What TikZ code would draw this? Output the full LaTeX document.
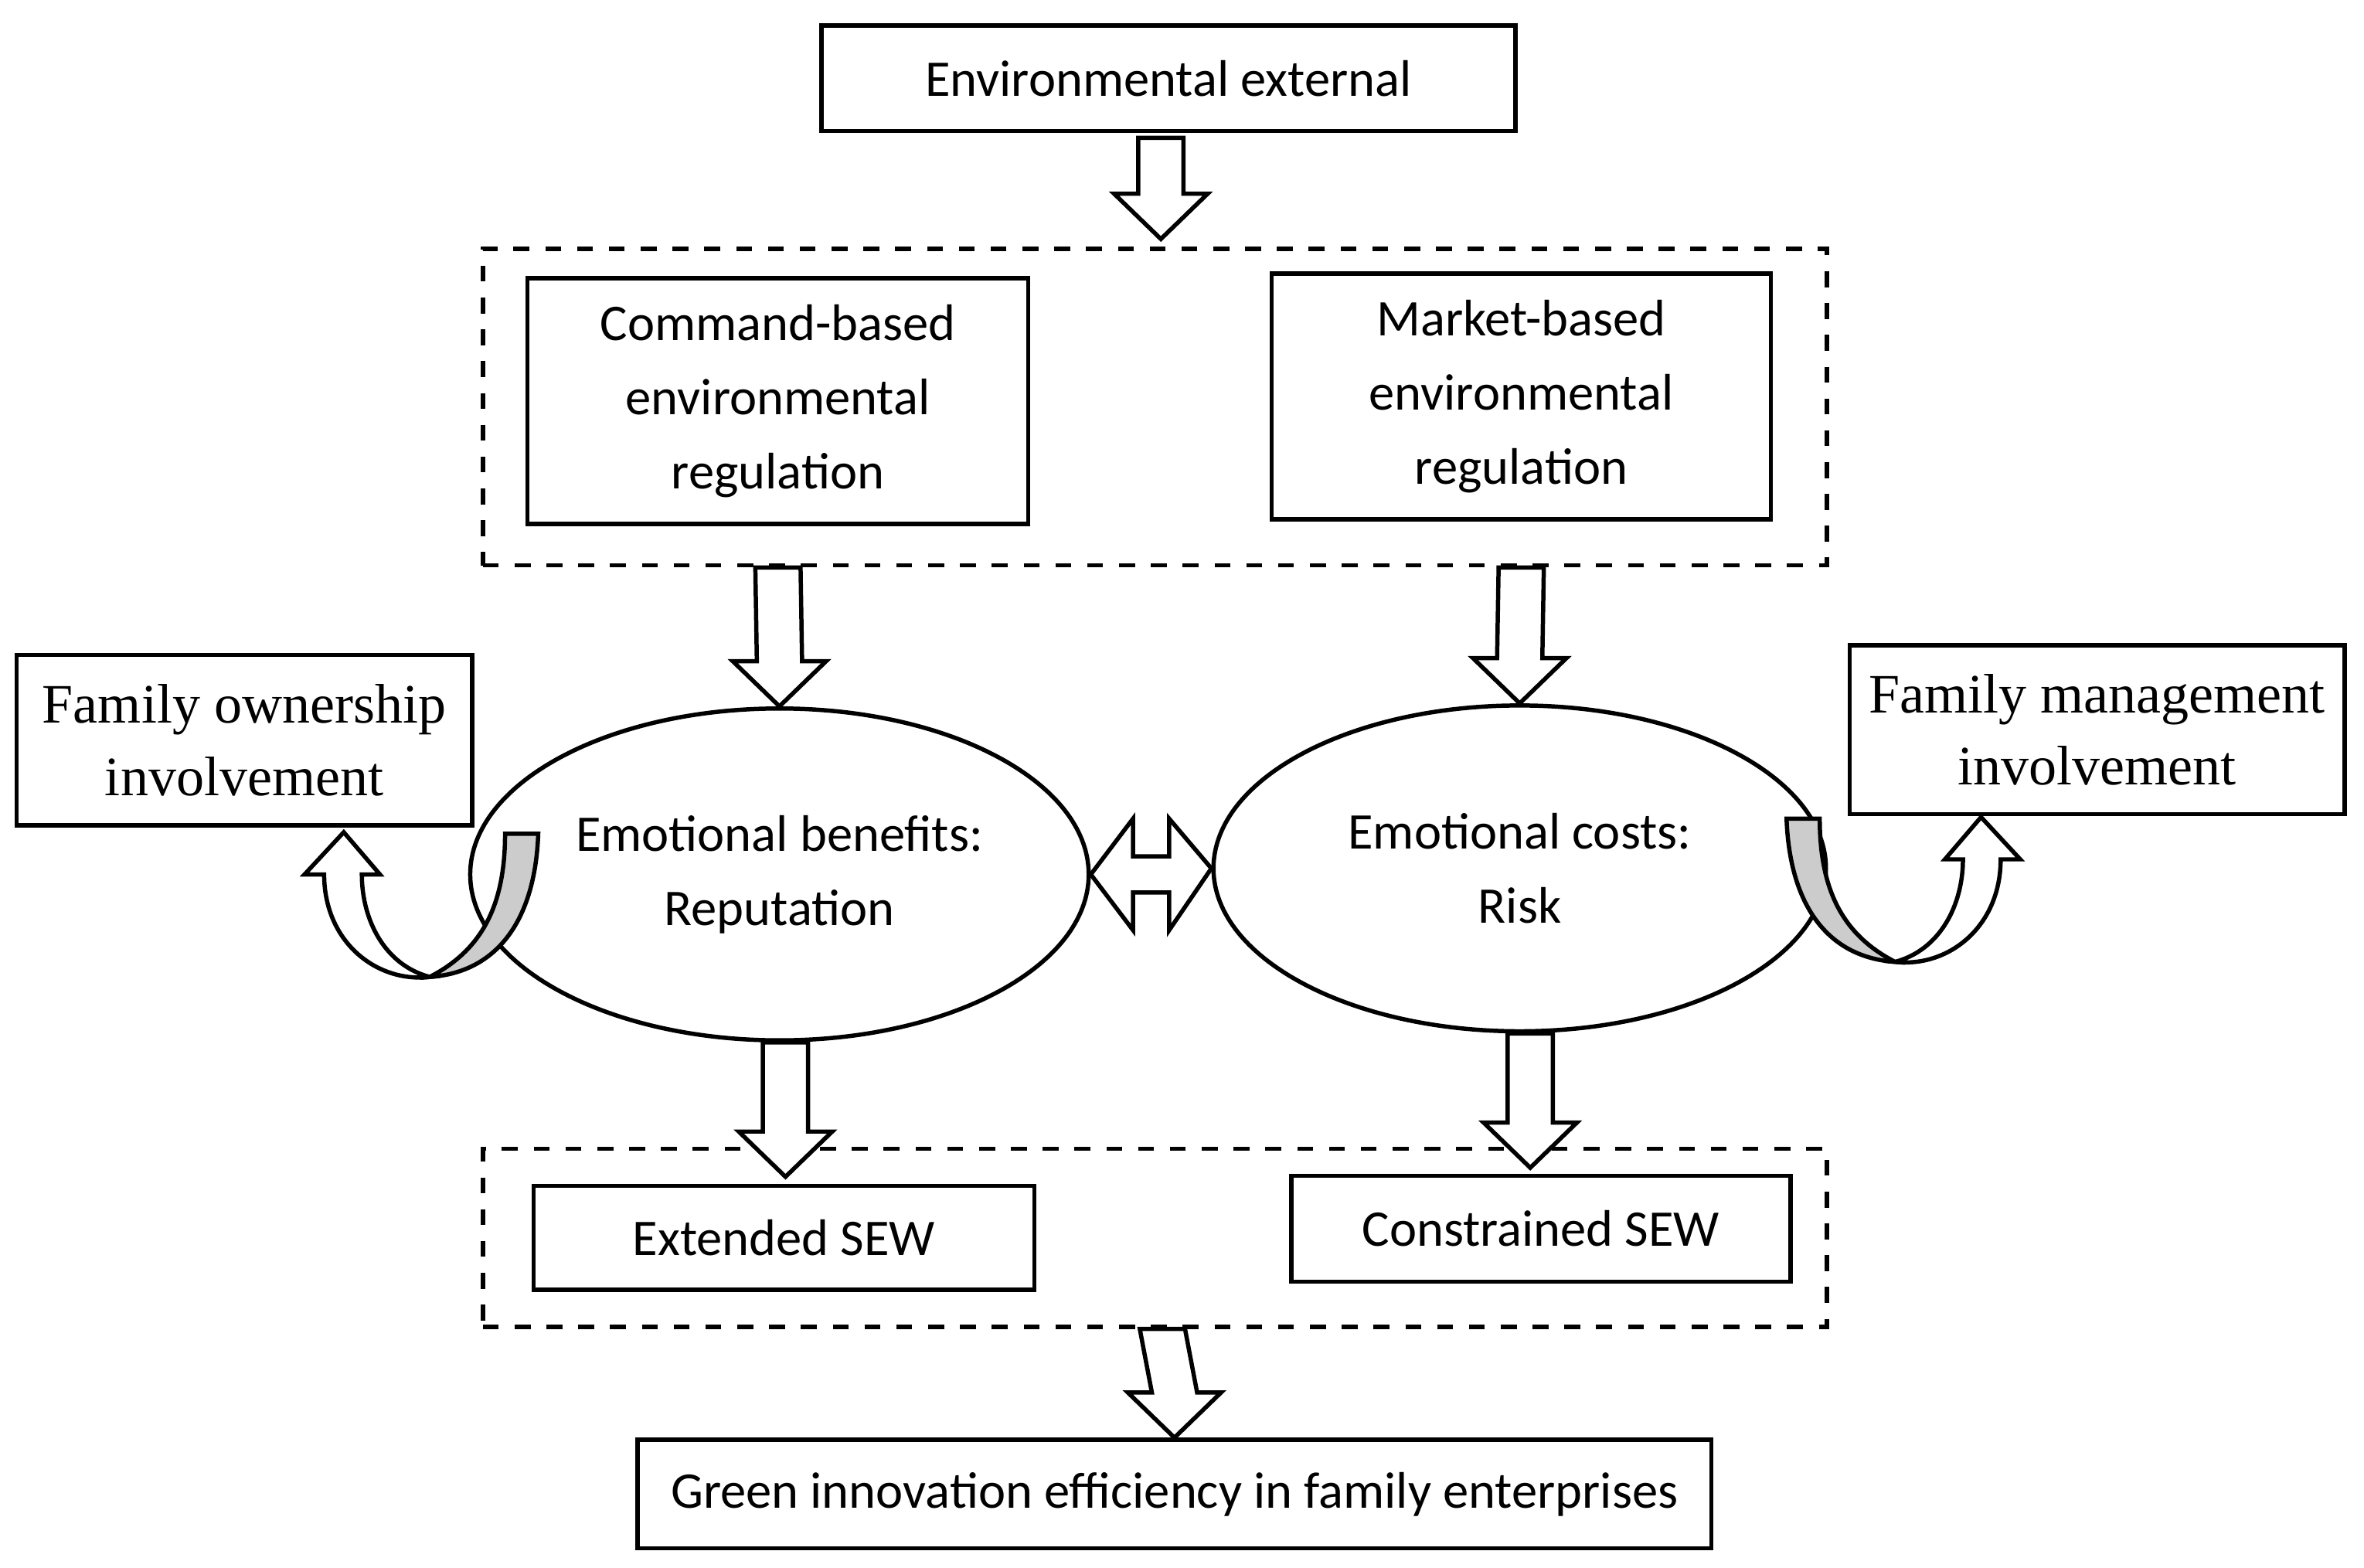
\documentclass[tikz,border=0pt]{standalone}
\usepackage{fontspec}
\setmainfont{Carlito}
\newfontfamily\timesfont{Liberation Serif}
\usetikzlibrary{calc}
\usetikzlibrary{positioning}
\usetikzlibrary{shapes.geometric}

\tikzset{
  box/.style={draw,thick,align=center,font=\fontsize{9.7}{14}\selectfont,inner sep=0pt},
  fambox/.style={box,font=\timesfont\fontsize{10.5}{13.6}\selectfont},
  group/.style={draw,thick,dashed,inner sep=0pt},
  fat/.style={draw,thick,fill=white,line join=miter},
  turn/.pic={
    \draw[thick,fill=gray!40] (50,-95) -- (72,-95) .. controls (70,-38) and (45,-3) .. (0,0)
      .. controls (35,-18) and (50,-48) .. (50,-95) -- cycle;
    \draw[thick,fill=white] (0,0) .. controls (-30,-8) and (-45,-38) .. (-45,-68) -- (-33,-68)
      -- (-57,-96) -- (-83,-68) -- (-70,-68) .. controls (-70,-23) and (-35,4) .. (0,0) -- cycle;
  }
}

% block arrow pointing down, from #1 to the tip #2
\newcommand\fatdown[2]{
  \draw[fat] ($#1+(-15,0)$) -- ($#2+(-15,-30)$) -- ($#2+(-31,-30)$) -- #2
    -- ($#2+(31,-30)$) -- ($#2+(15,-30)$) -- ($#1+(15,0)$) -- cycle;
}

\begin{document}
\begin{tikzpicture}[x=0.01cm,y=-0.01cm]
  \useasboundingbox (0,0) rectangle (1568,1040);

  \node[box,minimum width=4.6cm,minimum height=0.7cm] (env) at (775,52) {Environmental external};

  \node[group,minimum width=8.91cm,minimum height=2.1cm] (top) at (766,270) {};
  \node[box,minimum width=3.32cm,minimum height=1.63cm] (cmd) at (516,266) {Command-based\\environmental\\regulation};
  \node[box,minimum width=3.31cm,minimum height=1.63cm] (mkt) at (1009,263) {Market-based\\environmental\\regulation};

  \node[draw,thick,ellipse,inner sep=0pt,minimum width=4.1cm,minimum height=2.2cm,font=\fontsize{9.7}{14}\selectfont,align=center] (el) at (517,580) {Emotional benefits:\\Reputation};
  \node[draw,thick,ellipse,inner sep=0pt,minimum width=4.06cm,minimum height=2.16cm,font=\fontsize{9.7}{14}\selectfont,align=center] (er) at (1008,576) {Emotional costs:\\Risk};

  \node[fambox,minimum width=3.02cm,minimum height=1.13cm] (own) at (162,491) {Family ownership\\involvement};
  \node[fambox,minimum width=3.28cm,minimum height=1.12cm] (man) at (1391,484) {Family management\\involvement};

  \node[group,minimum width=8.91cm,minimum height=1.18cm] (bot) at (766,821) {};
  \node[box,minimum width=3.32cm,minimum height=0.69cm] (ext) at (520,821) {Extended SEW};
  \node[box,minimum width=3.31cm,minimum height=0.7cm] (con) at (1022,815) {Constrained SEW};

  \node[box,minimum width=7.12cm,minimum height=0.72cm] (gie) at (779,991) {Green innovation efficiency in family enterprises};

  % block arrows
  \coordinate (a1) at ($(env.south)+(-5,3)$);
  \coordinate (a2) at ($(top.north)+(4,-5)$);
  \fatdown{(a1)}{(a2)}
  \fatdown{(cmd.south |- top.south)}{(el.north)}
  \fatdown{(mkt.south |- top.south)}{(er.north)}
  \coordinate (b1) at ($(el.south)+(4,0)$);
  \coordinate (b2) at ($(bot.north)+(-245,20)$);
  \fatdown{(b1)}{(b2)}
  \coordinate (c1) at ($(er.south)+(7,0)$);
  \coordinate (c2) at ($(bot.north)+(249,14)$);
  \fatdown{(c1)}{(c2)}
  \coordinate (d1) at ($(bot.south)+(5,0)$);
  \fatdown{(d1)}{(gie.north)}

  % double arrow between the ellipses
  \draw[fat] (el.east) -- ($(el.east)+(28,-37)$) -- ($(el.east)+(28,-12)$) -- ($(er.west)+(-28,-8)$)
    -- ($(er.west)+(-28,-33)$) -- (er.west) -- ($(er.west)+(-28,41)$) -- ($(er.west)+(-28,16)$)
    -- ($(el.east)+(28,12)$) -- ($(el.east)+(28,37)$) -- cycle;

  % curved arrows
  \pic at (285,648) {turn};
  \pic[xscale=-1] at (1257,638) {turn};
\end{tikzpicture}
\end{document}
